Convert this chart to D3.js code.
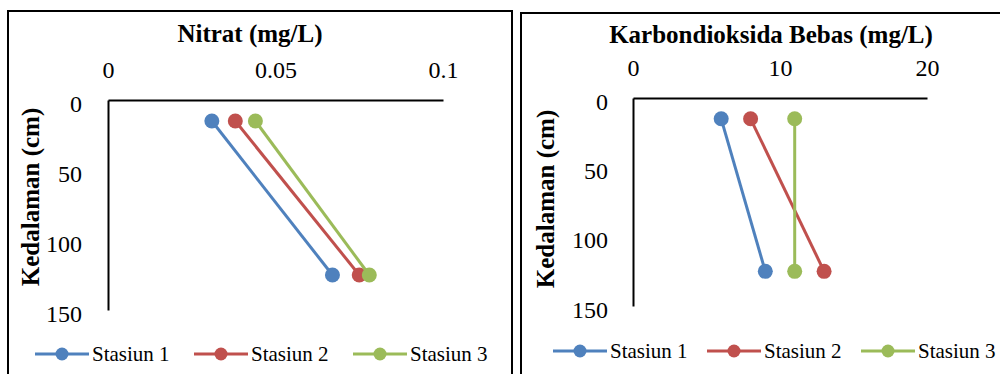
<!DOCTYPE html>
<html>
<head>
<meta charset="utf-8">
<script src="https://d3js.org/d3.v7.min.js"></script>
<style>
  body { margin: 0; background: #fff; }
  svg text { font-family: "Liberation Serif", "DejaVu Serif", serif; fill: #000; }
</style>
</head>
<body>
<svg id="chart" width="1000" height="374"></svg>
<script>
// depth of the two samples (cm)
var depths = [15, 125];
var seriesNames = ["Stasiun 1", "Stasiun 2", "Stasiun 3"];
var colors = ["#4F81BD", "#C0504D", "#9BBB59"];

// Nitrat (mg/L) per stasiun
var nitrat1 = [0.031, 0.067];
var nitrat2 = [0.038, 0.075];
var nitrat3 = [0.044, 0.078];
var nitratTicks = [0, 0.05, 0.1];

// Karbondioksida bebas (mg/L) per stasiun
var co2_1 = [6, 9];
var co2_2 = [8, 13];
var co2_3 = [11, 11];
var co2Ticks = [0, 10, 20];

var depthTicks = [0, 50, 100, 150];

var serif = "'Liberation Serif', 'DejaVu Serif', serif";
var svg = d3.select("#chart");

function drawPanel(p) {
    var g = svg.append("g");

    // chart border
    g.append("rect")
        .attr("x", p.box[0]).attr("y", p.box[1])
        .attr("width", p.box[2]).attr("height", p.box[3])
        .attr("fill", "none")
        .attr("stroke", "#000")
        .attr("stroke-width", 2);

    var x = d3.scaleLinear().domain(p.xDomain).range([p.left, p.right]);
    var y = d3.scaleLinear().domain([0, 150]).range([p.top, p.bottom]);

    g.append("text")
        .attr("x", p.titleX).attr("y", p.titleY)
        .attr("text-anchor", "middle")
        .attr("dominant-baseline", "central")
        .attr("font-family", serif)
        .style("font-size", "25px")
        .style("font-weight", "bold")
        .text(p.title);

    // top axis, labels only
    var xAxis = g.append("g")
        .attr("transform", "translate(0," + p.top + ")")
        .call(d3.axisTop(x).tickValues(p.xTicks).tickSize(0).tickPadding(0)
            .tickFormat(function(d) { return String(d); }));
    xAxis.attr("font-family", serif).attr("font-size", 24);
    xAxis.select(".domain").attr("stroke", "#000").attr("stroke-width", 2);
    xAxis.selectAll("text")
        .attr("y", p.xLabelY - p.top)
        .attr("dy", null)
        .attr("dominant-baseline", "central");

    var yAxis = g.append("g")
        .attr("transform", "translate(" + p.left + ",0)")
        .call(d3.axisLeft(y).tickValues(depthTicks).tickSize(0).tickPadding(0));
    yAxis.attr("font-family", serif).attr("font-size", 24);
    yAxis.select(".domain").attr("stroke", "#000").attr("stroke-width", 2);
    yAxis.selectAll("text")
        .attr("x", p.yLabelX - p.left)
        .attr("dy", 3)
        .attr("dominant-baseline", "central");

    g.append("text")
        .attr("transform", "translate(" + p.yTitleX + "," + p.yTitleY + ") rotate(-90)")
        .attr("text-anchor", "middle")
        .attr("dominant-baseline", "central")
        .attr("font-family", serif)
        .style("font-size", "25px")
        .style("font-weight", "bold")
        .text("Kedalaman (cm)");

    var line = d3.line()
        .x(function(d) { return x(d.v); })
        .y(function(d) { return y(d.depth); });

    p.series.forEach(function(vals, i) {
        var pts = vals.map(function(v, j) { return { v: v, depth: depths[j] }; });
        g.append("path")
            .datum(pts)
            .attr("d", line)
            .attr("fill", "none")
            .attr("stroke", colors[i])
            .attr("stroke-width", 3);
        g.selectAll(null)
            .data(pts)
            .enter().append("circle")
            .attr("cx", function(d) { return x(d.v); })
            .attr("cy", function(d) { return y(d.depth); })
            .attr("r", 7.5)
            .attr("fill", colors[i]);
    });

    // legend
    var leg = g.append("g");
    seriesNames.forEach(function(name, i) {
        var lx = p.legendX[i];
        leg.append("line")
            .attr("x1", lx).attr("x2", lx + 54)
            .attr("y1", p.legendY).attr("y2", p.legendY)
            .attr("stroke", colors[i])
            .attr("stroke-width", 3);
        leg.append("circle")
            .attr("cx", lx + 27).attr("cy", p.legendY)
            .attr("r", 6.5)
            .attr("fill", colors[i]);
        leg.append("text")
            .attr("x", lx + 57).attr("y", p.legendY)
            .attr("dominant-baseline", "central")
            .attr("font-family", serif)
            .style("font-size", "21px")
            .text(name);
    });
}

drawPanel({
    box: [8, 11, 504, 420],
    title: "Nitrat (mg/L)", titleX: 250, titleY: 33,
    xDomain: [0, 0.1], xTicks: nitratTicks,
    left: 108, right: 443, top: 100, bottom: 310,
    xLabelY: 70, yLabelX: 82,
    yTitleX: 30, yTitleY: 197,
    series: [nitrat1, nitrat2, nitrat3],
    legendX: [35, 194, 353], legendY: 354
});

drawPanel({
    box: [521, 13, 500, 420],
    title: "Karbondioksida Bebas (mg/L)", titleX: 771, titleY: 34,
    xDomain: [0, 20], xTicks: co2Ticks,
    left: 633, right: 927, top: 98, bottom: 306,
    xLabelY: 68, yLabelX: 608,
    yTitleX: 545, yTitleY: 199,
    series: [co2_1, co2_2, co2_3],
    legendX: [553, 707, 861], legendY: 351
});
</script>
</body>
</html>
